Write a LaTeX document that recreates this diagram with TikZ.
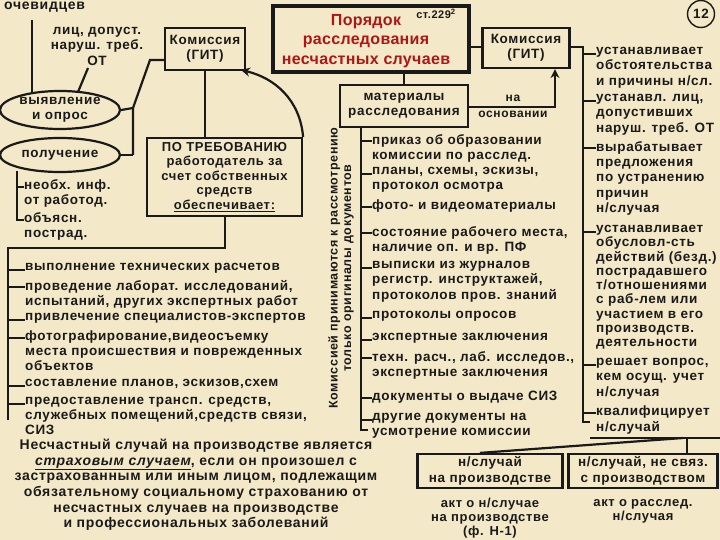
\documentclass[tikz,border=0pt]{standalone}
\usepackage{fontspec}
\setmainfont{Liberation Sans}[LetterSpace=5]
\usetikzlibrary{arrows.meta,shapes.geometric}
\definecolor{bg}{HTML}{F3E8C8}
\definecolor{ink}{HTML}{1A1A1A}
\definecolor{ttl}{HTML}{B01515}
\begin{document}
\begin{tikzpicture}[x=1pt,y=-1pt,
  every node/.style={text=ink,font=\bfseries\fontsize{13.5}{15.5}\selectfont},
  ln/.style={draw=ink,line width=2.2pt},
  txt/.style={anchor=north west,align=left,inner sep=0pt},
  rtxt/.style={txt,font=\bfseries\fontsize{13.5}{15.3}\selectfont},
  bx/.style={draw=ink,line width=2.2pt,fill=bg,align=center,inner sep=3pt},
  ell/.style={draw=ink,line width=2.2pt,ellipse,inner sep=0pt,align=center,minimum width=120pt}]
\fill[bg] (0,0) rectangle (720,540);
\useasboundingbox (0,0) rectangle (720,540);
% top left
\node[txt,font=\bfseries\fontsize{14}{16}\selectfont] (och) at (4,2) {очевидцев};
\node[align=center,inner sep=0pt] (lic) at (97,46) {лиц, допуст.\\наруш. треб.\\ОТ};
\node[bx,minimum width=80pt,minimum height=42pt] (k1) at (205,49) {Комиссия\\(ГИТ)};
\node[ell,minimum height=38pt] (vyy) at (60,110) {выявление\\и опрос};
\node[ell,minimum height=34pt] (pol) at (60,155) {получение};
\draw[ln] (32,20) -- (32,92);
\draw[ln] (88,68) -- (78,92);
\coordinate (jn) at (133,108);
\draw[ln] (k1.west |- 0,60) -- (150,60) -- (133,108) -- (133,155);
\draw[ln] (vyy.east) -- (jn);
\draw[ln] (pol.east) -- (133,155);
\node[txt] (nf) at (24,179) {необх. инф.\\от работод.};
\node[txt] (ob) at (24,212) {объясн.\\пострад.};
\coordinate (ps) at (17,171);
\draw[ln] (ps) -- (17,220) -- (ob.west |- 0,220);
\draw[ln] (17,187) -- (nf.west |- 0,187);
% ПО ТРЕБОВАНИЮ
\node[bx,minimum width=155pt,minimum height=78pt,inner sep=2pt,font=\bfseries\fontsize{13}{14.5}\selectfont] (pt) at (224.5,177) {ПО ТРЕБОВАНИЮ\\работодатель за\\счет собственных\\средств\\\underline{обеспечивает:}};
\draw[ln] (k1.south) -- (pt.north -| k1.south);
\draw[ln,-{Stealth[length=9pt,width=9pt]}] (pt.north east) .. controls (300,100) and (275,78) .. (241,70);
% list left
\coordinate (ls) at (8,248);
\draw[ln] (pt.south -| 225,0) -- (225,248) -- (ls) -- (8,420);
\foreach \n/\y/\t in {a1/263/{выполнение технических расчетов},
  a2/280/{проведение лаборат. исследований,\\испытаний, других экспертных работ},
  a3/313/{привлечение специалистов-экспертов},
  a4/331/{фотографирование,видеосъемку\\места происшествия и поврежденных\\объектов},
  a5/379/{составление планов, эскизов,схем},
  a6/397/{предоставление трансп. средств,\\служебных помещений,средств связи,\\СИЗ}}{
  \node[txt,font=\bfseries\fontsize{13.5}{14.8}\selectfont] (\n) at (25,\y) {\t};
  \draw[ln] (8,\y+7) -- (\n.west |- 0,\y+7);
}
% title
\node[draw=ink,line width=4pt,fill=bg,minimum width=196pt,minimum height=66pt] (ttlb) at (371,39) {};
\node[align=center,text=ttl,font=\bfseries\fontsize{16}{19.5}\selectfont\addfontfeature{LetterSpace=2},inner sep=0pt] (ttlt) at (366,41) {Порядок\\расследования\\несчастных случаев};
\node[inner sep=0pt,font=\bfseries\fontsize{11}{12}\selectfont] (st) at (436,14) {ст.229$^{\mathbf 2}$};
\node[bx,minimum width=87pt,minimum height=40pt] (k2) at (526,48) {Комиссия\\(ГИТ)};
\draw[ln] (ttlb.east |- 0,47) -- (k2.west |- 0,47);
\node[draw=ink,line width=1.4pt,circle,minimum size=27pt,inner sep=0pt] (n12) at (701,14) {12};
% материалы
\node[bx,minimum width=128pt,minimum height=42pt,inner sep=1pt] (mat) at (404,106) {материалы\\расследования};
\draw[ln] (ttlb.south -| mat.north) -- (mat.north);
\node[align=center,inner sep=0pt,font=\bfseries\fontsize{12}{16}\selectfont] (osn) at (513,106) {на\\основании};
\draw[ln,-{Stealth[length=9pt,width=9pt]}] (mat.east |- 0,107) -- (555,107) -- (k2.south -| 555,0);
\node[rotate=90,align=center,inner sep=0pt,font=\bfseries\fontsize{12.5}{13.5}\selectfont] (vert) at (341,268) {Комиссией принимаются к рассмотрению\\только оригиналы документов};
\draw[ln] (mat.south -| 361,0) -- (361,430) -- (368,430);
\foreach \n/\y/\t in {b1/134/{приказ об образовании\\комиссии по расслед.},
  b2/167/{планы, схемы, эскизы,\\протокол осмотра},
  b3/200/{фото- и видеоматериалы},
  b4/226/{состояние рабочего места,\\наличие оп. и вр. ПФ},
  b5/261/{выписки из журналов\\регистр. инструктажей,\\протоколов пров. знаний},
  b6/311/{протоколы опросов},
  b7/333/{экспертные заключения},
  b8/351/{техн. расч., лаб. исследов.,\\экспертные заключения},
  b9/391/{документы о выдаче СИЗ},
  b10/413/{другие документы на\\усмотрение комиссии}}{
  \node[txt] (\n) at (372,\y) {\t};
  \draw[ln] (361,\y+7) -- (\n.west |- 0,\y+7);
}
% right column
\draw[ln] (k2.east |- 0,47) -- (583,47) -- (583,422) -- (590,422);
\foreach \n/\y/\t in {c1/47/{устанавливает\\обстоятельства\\и причины н/сл.},
  c2/94/{устанавл. лиц,\\допустивших\\наруш. треб. ОТ},
  c3/141/{вырабатывает\\предложения\\по устранению\\причин\\н/случая},
  c5/358/{решает вопрос,\\кем осущ. учет\\н/случая},
  c6/406/{квалифицирует\\н/случай}}{
  \node[rtxt] (\n) at (596,\y) {\t};
  \draw[ln] (583,\y+7) -- (\n.west |- 0,\y+7);
}
\node[txt,font=\bfseries\fontsize{13.5}{14.3}\selectfont] (c4) at (596,225) {устанавливает\\обусловл-сть\\действий (безд.)\\пострадавшего\\т/отношениями\\с раб-лем или\\участием в его\\производств.\\деятельности};
\draw[ln] (583,232) -- (c4.west |- 0,232);
% bottom right
\coordinate (hl) at (590,438);
\draw[ln] (hl) -- (720,438);
\node[bx,minimum width=145pt,minimum height=34pt,inner sep=1pt] (r1) at (490,471) {н/случай\\на производстве};
\node[bx,minimum width=149pt,minimum height=34pt,inner sep=1pt] (r2) at (643,471) {н/случай, не связ.\\с производством};
\draw[ln] (683,438) -- (r1.north -| 480,0);
\draw[ln] (687,438) -- (r2.north -| 687,0);
\node[align=center,inner sep=0pt,font=\bfseries\fontsize{13}{14}\selectfont] (act1) at (490,518) {акт о н/случае\\на производстве\\(ф. Н-1)};
\node[align=center,inner sep=0pt,font=\bfseries\fontsize{13}{14}\selectfont] (act2) at (643,511) {акт о расслед.\\н/случая};
% bottom paragraph
\node[align=center,inner sep=0pt,font=\bfseries\fontsize{14}{15.6}\selectfont] (par) at (196,485) {Несчастный случай на производстве является\\\underline{\itshape страховым случаем}, если он произошел с\\застрахованным или иным лицом, подлежащим\\обязательному социальному страхованию от\\несчастных случаев на производстве\\и профессиональных заболеваний};
\end{tikzpicture}
\end{document}
